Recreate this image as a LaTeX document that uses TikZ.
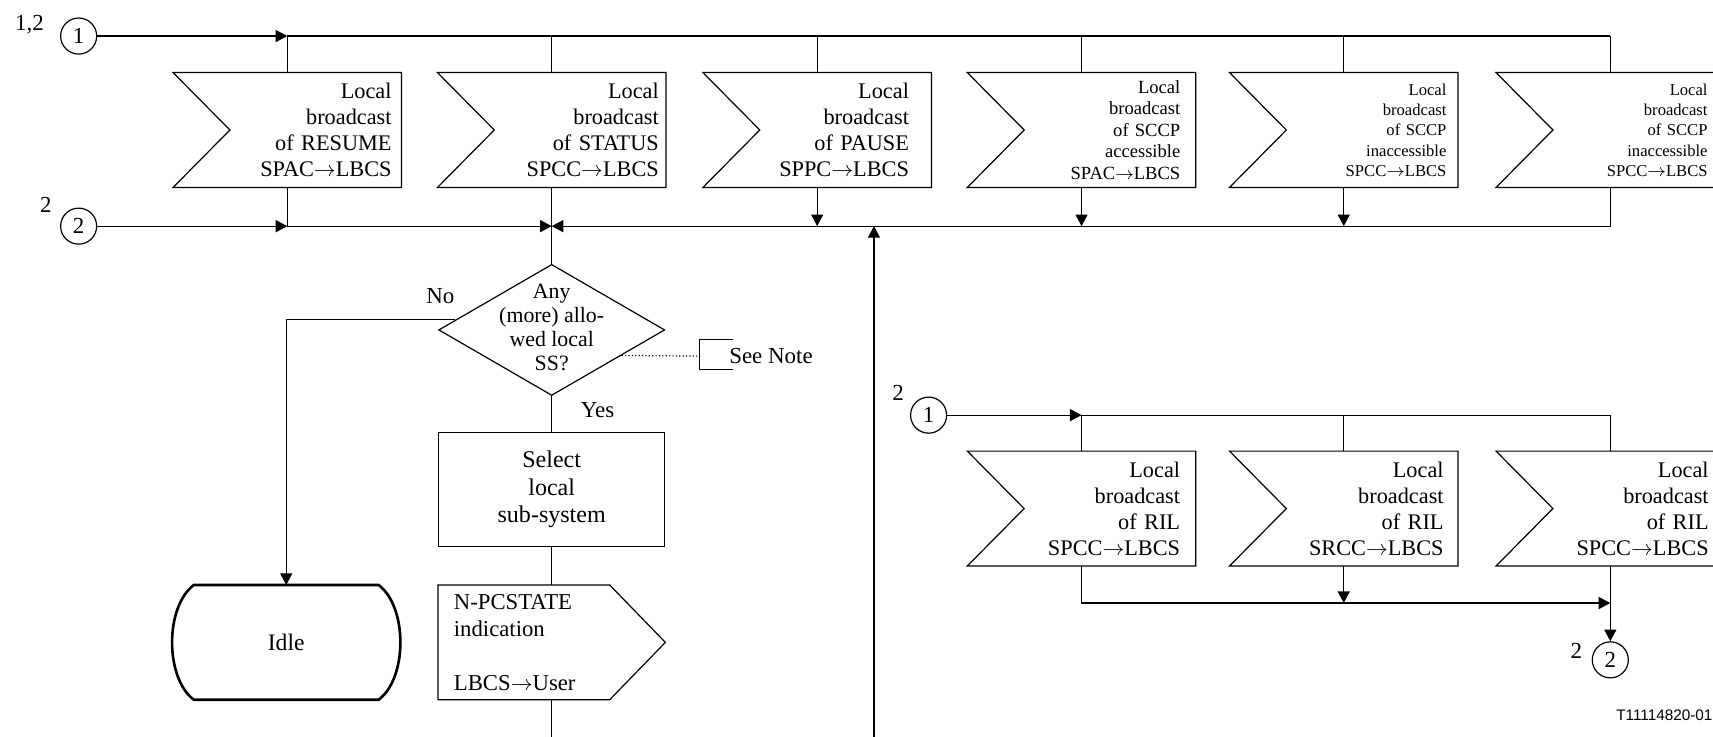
\documentclass[tikz,border=0pt]{standalone}
\usepackage{fontspec}
\setmainfont{Liberation Serif}
\newfontfamily\fontesans{Liberation Sans}
\usepackage{tikz}
\usetikzlibrary{shapes.geometric, arrows.meta, positioning, calc}

\begin{document}
\begin{tikzpicture}[x=0.5pt, y=-0.5pt, line width=0.55pt,
    font=\fontsize{10.2}{11.9}\selectfont,
    >={Triangle[length=5.3pt,width=5.5pt]},
    entrada/.style={minimum width=104pt, minimum height=52pt, inner sep=0pt,
      text width=#1, align=right},
    tarefa/.style={draw, minimum width=103.5pt, minimum height=52pt, inner sep=0pt,
      align=center, font=\fontsize{11}{12.5}\selectfont},
    saida/.style={minimum width=103.5pt, minimum height=52pt, inner sep=0pt,
      text width=89.5pt, align=left, font=\fontsize{10.4}{12.2}\selectfont},
    decisao/.style={diamond, draw, minimum width=103.5pt, minimum height=60pt, inner sep=0pt},
    estado/.style={minimum width=104pt, minimum height=52pt, inner sep=0pt,
      font=\fontsize{10.8}{13}\selectfont},
    conector/.style={circle, draw, minimum size=16.5pt, inner sep=0pt,
      font=\fontsize{10.5}{12}\selectfont},
    rotulo/.style={inner sep=0pt, font=\fontsize{10.5}{12}\selectfont}]

  \useasboundingbox (0,0) rectangle (1568,674);
  \clip (0,0) rectangle (1568,674);

  % barramento superior: entradas 1 e 2
  \node[conector] (c1) at (72,33) {1};
  \node[rotulo] (n12) at (27,23) {1,2};
  \node[conector] (c2) at (72,207) {2};
  \node[rotulo] (n2a) at (42,188) {2};

  \foreach \i/\x/\w/\txt in {1/263/95.4pt/{Local\\broadcast\\of RESUME\\SPAC$\rightarrow$LBCS},
      2/505/98pt/{Local\\broadcast\\of STATUS\\SPCC$\rightarrow$LBCS},
      3/748/84pt/{Local\\broadcast\\of PAUSE\\SPPC$\rightarrow$LBCS}}
    \node[entrada=\w] (b\i) at (\x,119) {\txt};
  \node[entrada=90.4pt, font=\fontsize{8.5}{9.9}\selectfont] (b4) at (990,119)
    {Local\\broadcast\\of SCCP\\accessible\\SPAC$\rightarrow$LBCS};
  \node[entrada=94pt, font=\fontsize{7.6}{9.3}\selectfont] (b5) at (1230,119)
    {Local\\broadcast\\of SCCP\\inaccessible\\SPCC$\rightarrow$LBCS};
  \node[entrada=89pt, font=\fontsize{7.6}{9.3}\selectfont] (b6) at (1474,119)
    {Local\\broadcast\\of SCCP\\inaccessible\\SPCC$\rightarrow$LBCS};

  \draw[->] (c1) -- (b1 |- c1);
  \draw (b1 |- c1) -- (b6 |- c1);
  \foreach \i in {1,...,6} \draw (b\i |- c1) -- (b\i);

  \draw[->] (c2) -- (b1 |- c2);
  \draw (b1) -- (b1 |- c2);
  \draw[->] (b1 |- c2) -- (b2 |- c2);
  \draw[->] (b6) |- (b2 |- c2);
  \foreach \i in {3,4,5} \draw[->] (b\i) -- (b\i |- c2);

  \coordinate (retorno) at (800,680);
  \draw[->] (retorno) -- (retorno |- c2);

  % decisao e ramo "Yes"
  \node[decisao] (q) at (505,302) {\raisebox{-2.5pt}[0pt][0pt]{\fontsize{10}{11}\selectfont
    \begin{tabular}{@{}c@{}}Any\\(more) allo-\\wed local\\SS?\end{tabular}}};
  \draw (b2) -- (q);
  \node[rotulo] (nao) at (403,271) {No};
  \node[rotulo] (sim) at (547,375) {Yes};

  \node[rotulo, anchor=west] (nota) at (667,326) {See Note};
  \draw[densely dotted] (q.340) -- ([xshift=-13.5pt]nota.west);
  \draw ([shift={(2pt,7.5pt)}]nota.west) -- ([shift={(-13.5pt,7.5pt)}]nota.west)
    -- ([shift={(-13.5pt,-6pt)}]nota.west) -- ([shift={(2pt,-6pt)}]nota.west);

  \node[tarefa] (s) at (505,448) {Select\\local\\sub-system};
  \draw (q) -- (s);

  \node[saida] (o) at (505,588) {N-PCSTATE\\indication\\[12.5pt]LBCS$\rightarrow$User};
  \draw (s) -- (o);
  \draw (o.north west) -- ([xshift=-25.5pt]o.north east) -- (o.east)
    -- ([xshift=-25.5pt]o.south east) -- (o.south west) -- cycle;
  \coordinate (fim) at (505,680);
  \draw (o) -- (fim);

  % ramo "No": estado Idle
  \node[estado] (idle) at (262,588) {Idle};
  \draw[->] (q.174) -| (idle);
  \draw[line width=1.2pt] ([xshift=10pt]idle.north west) -- ([xshift=-10pt]idle.north east)
    .. controls ([shift={(3.3pt,-10pt)}]idle.north east) and ([shift={(3.3pt,10pt)}]idle.south east)
    .. ([xshift=-10pt]idle.south east) -- ([xshift=10pt]idle.south west)
    .. controls ([shift={(-3.3pt,10pt)}]idle.south west) and ([shift={(-3.3pt,-10pt)}]idle.north west)
    .. cycle;

  % entrada 1 da pagina 2: RIL
  \node[conector] (d1) at (850,380) {1};
  \node[rotulo] (n2b) at (822,360) {2};
  \foreach \i/\x/\w/\txt in {1/990/90.2pt/{Local\\broadcast\\of RIL\\SPCC$\rightarrow$LBCS},
      2/1230/91.4pt/{Local\\broadcast\\of RIL\\SRCC$\rightarrow$LBCS},
      3/1474/90pt/{Local\\broadcast\\of RIL\\SPCC$\rightarrow$LBCS}}
    \node[entrada=\w] (r\i) at (\x,465.5) {\txt};
  \draw[->] (d1) -- (r1 |- d1);
  \draw (r1 |- d1) -- (r3 |- d1);
  \foreach \i in {1,2,3} \draw (r\i |- d1) -- (r\i);

  \coordinate (juncao) at (1474,552);
  \draw[->] (r1) |- (juncao);
  \draw[->] (r2) -- (r2 |- juncao);
  \node[conector] (d2) at (1474,604) {2};
  \node[rotulo] (n2c) at (1443,596) {2};
  \draw[->] (r3) -- (d2);

  % contorno dos simbolos de entrada
  \foreach \n in {b1,b2,b3,b4,b5,b6,r1,r2,r3}
    \draw (\n.north west) -- (\n.north east) -- (\n.south east) -- (\n.south west)
      -- ([xshift=26pt]\n.west) -- cycle;

  \node[anchor=east, inner sep=0pt, font=\fontesans\fontsize{7}{8}\selectfont] (ref)
    at (1568,655) {T11114820-01};
\end{tikzpicture}
\end{document}
